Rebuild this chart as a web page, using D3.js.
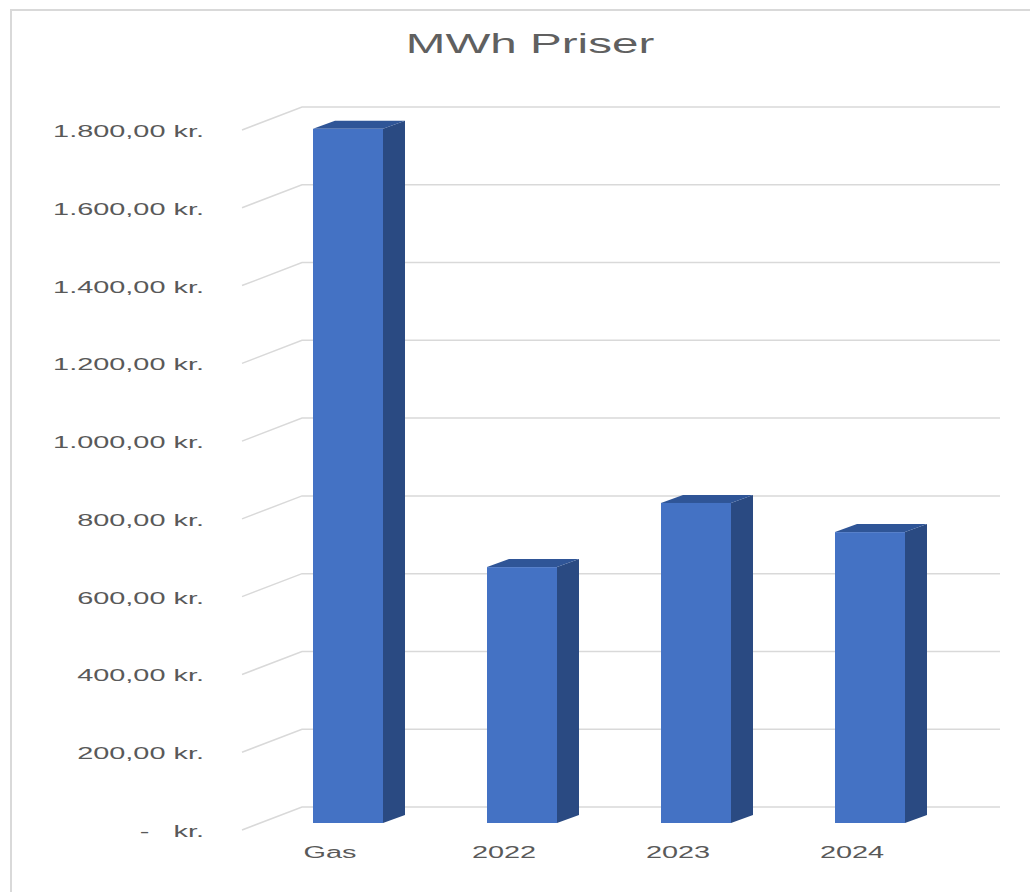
<!DOCTYPE html>
<html>
<head>
<meta charset="utf-8">
<script src="https://d3js.org/d3.v7.min.js"></script>
<style>
  body { margin: 0; background: #fff; }
  text { font-family: "Liberation Sans", Arial, sans-serif; fill: #595959; white-space: pre; }
</style>
</head>
<body>
<svg id="chart" width="1030" height="892"></svg>
<script>
// chart data
const categories = ["Gas", "2022", "2023", "2024"];
const prices = [1785, 658, 823, 748];
const tickValues = [0, 200, 400, 600, 800, 1000, 1200, 1400, 1600, 1800];
const tickLabels = ["-   kr.", "200,00 kr.", "400,00 kr.", "600,00 kr.", "800,00 kr.",
  "1.000,00 kr.", "1.200,00 kr.", "1.400,00 kr.", "1.600,00 kr.", "1.800,00 kr."];

const width = 1030, height = 892;
const stretch = 1.7;      // the picture is stretched sideways
const depthX = 22, depthY = 8;

let svg = d3.select("#chart");

// frame (only left and top edges are visible)
svg.append("path")
  .attr("d", `M11,${height} L11,10 L${width},10`)
  .attr("fill", "none")
  .attr("stroke", "#d9d9d9")
  .attr("stroke-width", 2);

// back wall scale
let y = d3.scaleLinear().domain([0, 1800]).range([807, 107]);
let x = d3.scalePoint().domain(categories).range([261, 957]).padding(0.5);

// gridlines in perspective
let grid = svg.append("g");
tickValues.forEach(function (t) {
  grid.append("path")
    .attr("d", `M242,${y(t) + 23} L302,${y(t)} L1000,${y(t)}`)
    .attr("fill", "none")
    .attr("stroke", "#d9d9d9")
    .attr("stroke-width", 1.5);
});

// y tick labels
svg.append("g").selectAll("text")
  .data(tickValues)
  .enter()
  .append("text")
  .attr("transform", (d) => `translate(204, ${y(d) + 30}) scale(${stretch},1)`)
  .style("text-anchor", "end")
  .style("font-size", "17px")
  .text((d, i) => tickLabels[i]);

// bars
const half = 35;
const frontBottom = y(0) + 16;
let bars = svg.append("g").selectAll("g")
  .data(categories)
  .enter()
  .append("g");

bars.append("path") // side
  .attr("d", function (d, i) {
    let c = x(d), top = y(prices[i]) + 16;
    return `M${c + half},${top} L${c + half + depthX},${top - depthY} L${c + half + depthX},${frontBottom - depthY} L${c + half},${frontBottom} Z`;
  })
  .attr("fill", "#2a4a82");

bars.append("path") // top
  .attr("d", function (d, i) {
    let c = x(d), top = y(prices[i]) + 16;
    return `M${c - half},${top} L${c + half},${top} L${c + half + depthX},${top - depthY} L${c - half + depthX},${top - depthY} Z`;
  })
  .attr("fill", "#2f5597");

bars.append("rect") // front
  .attr("x", (d) => x(d) - half)
  .attr("y", (d, i) => y(prices[i]) + 16)
  .attr("width", half * 2)
  .attr("height", (d, i) => frontBottom - (y(prices[i]) + 16))
  .attr("fill", "#4472c4");

// x labels
svg.append("g").selectAll("text")
  .data(categories)
  .enter()
  .append("text")
  .attr("transform", (d) => `translate(${x(d) - 18}, 858) scale(${stretch},1)`)
  .style("text-anchor", "middle")
  .style("font-size", "17px")
  .text((d) => d);

// title
svg.append("text")
  .attr("transform", `translate(530, 53) scale(${stretch},1)`)
  .style("text-anchor", "middle")
  .style("font-size", "28px")
  .style("fill", "#606060")
  .text("MWh Priser");
</script>
</body>
</html>
